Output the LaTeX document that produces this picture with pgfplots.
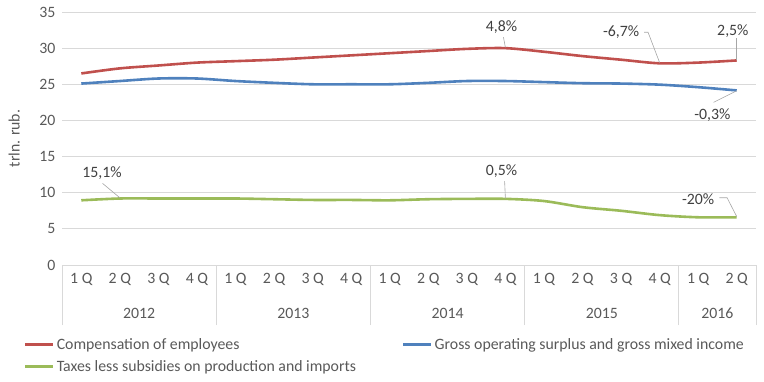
\documentclass[border=0pt]{standalone}
\usepackage{pgfplots}
\pgfplotsset{compat=1.18}
\usepackage{fontspec}
\setmainfont{Carlito}
\definecolor{cred}{HTML}{C0504D}
\definecolor{cblue}{HTML}{4F81BD}
\definecolor{cgreen}{HTML}{9BBB59}
\definecolor{txt}{HTML}{595959}
\definecolor{lbl}{HTML}{404040}
\definecolor{gridc}{HTML}{D9D9D9}
\definecolor{leader}{HTML}{A6A6A6}
\newcommand{\cf}{\fontsize{15.8bp}{18bp}\selectfont}
\begin{document}
\begin{tikzpicture}
\useasboundingbox (0,0) rectangle (764bp,382bp);
\begin{axis}[
  at={(62bp,117bp)}, anchor=south west,
  scale only axis, width=694bp, height=253bp,
  xmin=-0.5, xmax=17.5, ymin=0, ymax=35,
  ytick={0,5,...,35},
  xtick={0,...,17},
  xticklabels={1 Q,2 Q,3 Q,4 Q,1 Q,2 Q,3 Q,4 Q,1 Q,2 Q,3 Q,4 Q,1 Q,2 Q,3 Q,4 Q,1 Q,2 Q},
  minor xtick={-0.5,3.5,7.5,11.5,15.5,17.5},
  xtick pos=bottom, ytick pos=left,
  major tick length=0pt,
  minor tick length=60bp,
  tick align=outside,
  minor tick style={draw=gridc, line width=0.8bp},
  axis line style={draw=none},
  ymajorgrids, major grid style={draw=gridc, line width=0.8bp},
  tick label style={font=\cf, text=txt},
  /pgf/number format/assume math mode=true,
  yticklabel style={xshift=-3bp},
  xticklabel style={yshift=-5bp},
  ylabel={trln. rub.},
  ylabel style={font=\cf, text=txt, yshift=13bp},
  clip=false,
  legend columns=2,
  legend cell align=left,
  legend style={draw=none, fill=none, at={(axis description cs:-0.0548,-0.280)}, anchor=north west,
    font=\cf, text=txt, inner sep=0pt,
    /tikz/every even column/.append style={column sep=44bp},
    row sep=6bp},
  legend image code/.code={\draw[#1] (0bp,0bp) -- (28bp,0bp);},
  every axis plot/.append style={line width=2.6bp, smooth, tension=0.5, no markers},
]
\addplot[cred] coordinates {(0,26.5) (1,27.2) (2,27.6) (3,28.0) (4,28.2) (5,28.4) (6,28.7) (7,29.0) (8,29.3) (9,29.6) (10,29.9) (11,30.0) (12,29.5) (13,28.9) (14,28.4) (15,27.9) (16,28.0) (17,28.3)};
\addlegendentry{Compensation of employees}
\addplot[cblue] coordinates {(0,25.1) (1,25.45) (2,25.8) (3,25.8) (4,25.45) (5,25.2) (6,25.0) (7,25.0) (8,25.0) (9,25.2) (10,25.45) (11,25.45) (12,25.3) (13,25.15) (14,25.1) (15,24.95) (16,24.6) (17,24.15)};
\addlegendentry{Gross operating surplus and gross mixed income}
\addplot[cgreen] coordinates {(0,8.95) (1,9.2) (2,9.2) (3,9.2) (4,9.2) (5,9.1) (6,9.0) (7,9.0) (8,8.95) (9,9.1) (10,9.15) (11,9.15) (12,8.85) (13,8.0) (14,7.5) (15,6.9) (16,6.6) (17,6.6)};
\addlegendentry{Taxes less subsidies on production and imports}
% years
\foreach \yx/\yl in {1.5/2012,5.5/2013,9.5/2014,13.5/2015,16.5/2016}{
  \edef\tmp{\noexpand\node[font=\noexpand\cf, text=txt] at (axis cs:\yx,0) [yshift=-48bp] {\yl};}
  \tmp
}
% data labels
\tikzset{dl/.style={font=\cf, text=lbl, inner sep=0pt}, ld/.style={draw=leader, line width=0.6bp}}
\node[dl] at (axis cs:0.54,12.7) {15,1\%};
\draw[ld] (axis cs:0.55,11.3) -- (axis cs:1,9.3);
\node[dl] at (axis cs:10.9,32.9) {4,8\%};
\draw[ld] (axis cs:10.95,31.5) -- (axis cs:11,30.1);
\node[dl] at (axis cs:14.0,32.2) {-6,7\%};
\draw[ld] (axis cs:14.6,32.2) -- (axis cs:14.7,32.2) -- (axis cs:15,28.0);
\node[dl] at (axis cs:16.9,32.4) {2,5\%};
\draw[ld] (axis cs:17,31.4) -- (axis cs:17,28.4);
\node[dl] at (axis cs:16.37,20.7) {-0,3\%};
\draw[ld] (axis cs:16.4,22.5) -- (axis cs:17,24.1);
\node[dl] at (axis cs:10.9,13.0) {0,5\%};
\draw[ld] (axis cs:10.98,11.6) -- (axis cs:11,9.2);
\node[dl] at (axis cs:16.0,9.1) {-20\%};
\draw[ld] (axis cs:16.55,9.3) -- (axis cs:16.75,9.3) -- (axis cs:17,6.7);
\end{axis}
\end{tikzpicture}
\end{document}
